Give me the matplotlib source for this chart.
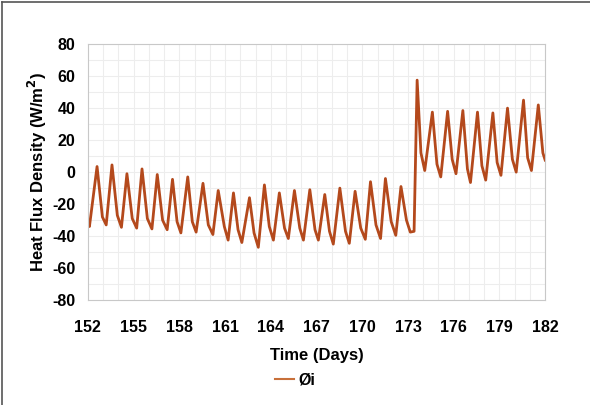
import matplotlib
matplotlib.use("Agg")
import matplotlib.pyplot as plt
from matplotlib.lines import Line2D
from matplotlib.ticker import MultipleLocator

plt.rcParams['font.family'] = ['Liberation Sans', 'DejaVu Sans']
plt.rcParams['font.weight'] = 'bold'
plt.rcParams['axes.unicode_minus'] = False

# daily cycle: trough -> peak -> knee on the way down
trough_day = [152.1, 153.2, 154.2, 155.2, 156.2, 157.2, 158.1, 159.1, 160.2, 161.2,
              162.1, 163.18, 164.17, 165.15, 166.14, 167.12, 168.1, 169.15, 170.2, 171.2,
              172.2, 173.15, 174.1, 175.15, 176.15, 177.1, 178.1, 179.1, 180.1, 181.1]
trough_val = [-34, -33, -34.5, -35, -35.5, -36, -38, -37.5, -39, -42.5,
              -44, -47, -42.5, -41.5, -42.5, -42.5, -45, -44.5, -42, -41.5,
              -39.5, -37.5, 1, -3, -1, -6.5, -5, -2, 0, 1]
peak_day = [152.6, 153.58, 154.56, 155.55, 156.55, 157.55, 158.55, 159.55, 160.55, 161.55,
            162.6, 163.58, 164.56, 165.55, 166.56, 167.54, 168.53, 169.53, 170.54, 171.52,
            172.54, 173.6, 174.6, 175.6, 176.6, 177.56, 178.57, 179.53, 180.58, 181.55]
peak_val = [3.5, 4.5, -1, 2, -1.5, -4.5, -3, -7, -11.5, -13,
            -16, -8, -13, -11.5, -11, -14, -10, -12, -6, -4,
            -9, 57.5, 37.5, 38, 38.5, 37.5, 37, 40, 45, 42]
knee_day = [152.95, 153.93, 154.91, 155.9, 156.9, 157.85, 158.85, 159.9, 160.95, 161.85,
            162.9, 163.9, 164.9, 165.9, 166.9, 167.85, 168.9, 169.9, 170.9, 171.9,
            172.9, 173.85, 174.9, 175.9, 176.9, 177.85, 178.85, 179.85, 180.85, 181.85]
knee_val = [-28, -27, -29, -29, -30, -31, -31, -33, -34, -36,
            -38, -34, -35, -35, -36, -37, -37, -35, -33, -31,
            -30, 12, 5, 8, 2, 4, 6, 8, 9, 12]
start_day, start_val = 152.0, -31
flat_day, flat_val = 173.4, -37
end_day, end_val = 182.0, 7.5
x_ticks = list(range(152, 183, 3))

pts = [(start_day, start_val), (flat_day, flat_val), (end_day, end_val)]
pts += list(zip(trough_day, trough_val)) + list(zip(peak_day, peak_val)) + list(zip(knee_day, knee_val))
pts.sort()
days = [p[0] for p in pts]
flux = [p[1] for p in pts]

fig = plt.figure(figsize=(5.9, 4.05), dpi=100)
ax = fig.add_axes([0.149, 0.259, 0.775, 0.632])

ax.plot(days, flux, color='#B4491C', lw=2.0, solid_joinstyle='round', label='Øi')

ax.set_xlim(152, 182)
ax.set_ylim(-80, 80)
ax.set_xticks(x_ticks)
ax.xaxis.set_minor_locator(MultipleLocator(1))
ax.yaxis.set_major_locator(MultipleLocator(20))
ax.yaxis.set_minor_locator(MultipleLocator(10))
ax.grid(which='both', color='#EDEDED', lw=0.8)
ax.set_axisbelow(True)
ax.tick_params(which='both', length=0, labelsize=11.5)
ax.tick_params(axis='x', pad=14)
ax.tick_params(axis='y', pad=9)
for lab in ax.get_xticklabels() + ax.get_yticklabels():
    lab.set_fontweight('bold')
for s in ax.spines.values():
    s.set_color('#C8C8C8')

ax.set_xlabel('Time (Days)', fontsize=12, fontweight='bold', labelpad=10)
ax.set_ylabel('Heat Flux Density (W/m$\\mathbf{^2}$)', fontsize=12, fontweight='bold', labelpad=2)

leg = fig.legend(loc='center', bbox_to_anchor=(0.5, 0.062), frameon=False,
                 prop={'weight': 'bold', 'size': 11.5}, handlelength=1.2, handletextpad=0.3)
leg.get_lines()[0].set_color('#C8703A')
leg.get_lines()[0].set_linewidth(1.5)

# outer frame, left and top only
fig.add_artist(Line2D([0.004, 0.004], [0, 0.996], color='#555555', lw=1.2, transform=fig.transFigure))
fig.add_artist(Line2D([0.004, 1], [0.996, 0.996], color='#555555', lw=1.2, transform=fig.transFigure))

fig.savefig('out.png', dpi=100)
